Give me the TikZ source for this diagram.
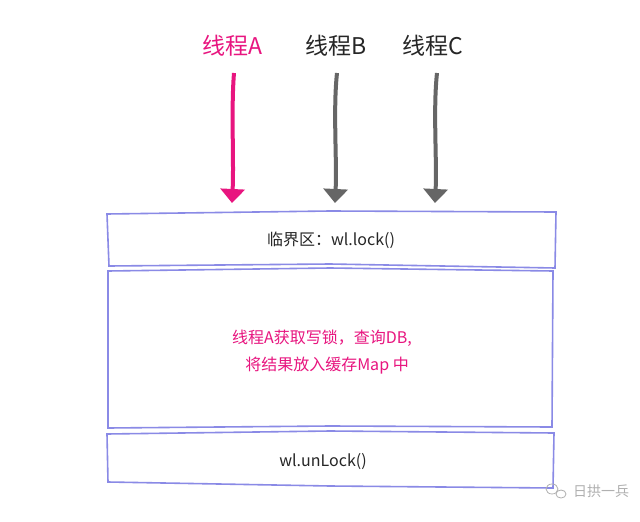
\documentclass[tikz,border=0pt]{standalone}
\usepackage{fontspec}
\newfontfamily\cjk{Noto Sans CJK SC}
\usetikzlibrary{arrows.meta}
\definecolor{pinkc}{HTML}{E8157F}
\definecolor{greyc}{HTML}{666666}
\definecolor{boxc}{HTML}{8A8AE6}
\definecolor{wmc}{HTML}{B0B0B0}
\tikzset{
  lbl/.style={font=\cjk\fontsize{23}{26}\selectfont, inner sep=0pt},
  thr/.style={line width=4pt, -{Triangle[length=14pt,width=24pt]}},
  stage/.style={draw=boxc, line width=1.6pt, fill=white},
  txt/.style={font=\cjk\fontsize{16}{19}\selectfont, inner sep=0pt, align=center},
}
\begin{document}
\begin{tikzpicture}[x=1pt,y=-1pt]
\useasboundingbox[fill=white] (0,0) rectangle (640,522);
% thread labels
\node[lbl, text=pinkc] (la) at (232,46) {线程A};
\node[lbl, text=black!85] (lb) at (336,46) {线程B};
\node[lbl, text=black!85] (lc) at (433,46) {线程C};
% anchors for arrows
\coordinate (sa) at (234,73);
\coordinate (ea) at (232,203);
\coordinate (sb) at (337,73);
\coordinate (eb) at (335,203);
\coordinate (sc) at (437,73);
\coordinate (ec) at (435,203);
\draw[thr, pinkc] (sa) .. controls (231,110) and (234,160) .. (ea);
\draw[thr, greyc] (sb) .. controls (333,110) and (337,160) .. (eb);
\draw[thr, greyc] (sc) .. controls (433,110) and (437,160) .. (ec);
% boxes
\draw[stage] (107,214) -- (330,211) -- (556,212) -- (555,268) -- (330,264) -- (109,266) -- cycle;
\draw[stage] (108,271) -- (330,268) -- (553,271) -- (552,427) -- (330,426) -- (108,428) -- cycle;
\draw[stage] (107,434) -- (330,431) -- (554,433) -- (553,488) -- (330,486) -- (108,482) -- cycle;
% texts
\node[txt, text=black!85] (t1) at (331,240) {临界区：wl.lock()};
\node[txt, text=pinkc] (t2a) at (322,338) {线程A获取写锁，查询DB,};
\node[txt, text=pinkc] (t2b) at (327,366) {将结果放入缓存Map 中};
\node[txt, text=black!85] (t3) at (323,462) {wl.unLock()};
% watermark
\draw[wmc, line width=0.8pt] (552,489) ellipse (6pt and 5pt);
\draw[wmc, line width=0.8pt] (561,494) ellipse (5pt and 4pt);
\node[font=\cjk\fontsize{14}{16}\selectfont, text=wmc, inner sep=0pt] (wm) at (601,491) {日拱一兵};
\end{tikzpicture}
\end{document}
